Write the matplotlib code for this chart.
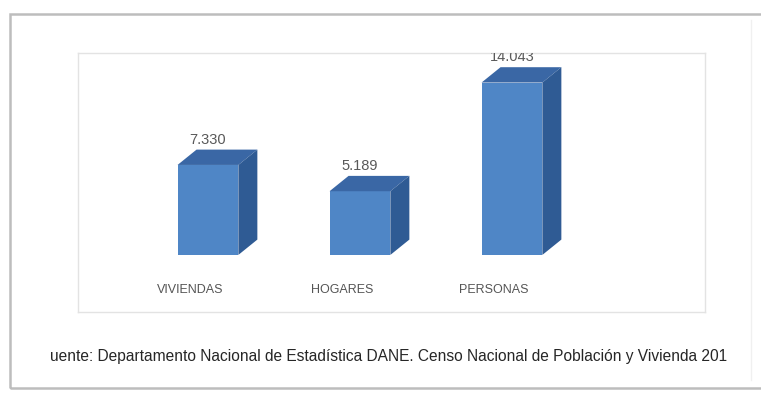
import matplotlib
matplotlib.use("Agg")
import matplotlib.pyplot as plt
from matplotlib.patches import Polygon, Rectangle

categories = ["VIVIENDAS", "HOGARES", "PERSONAS"]
values = [7.330, 5.189, 14.043]
value_labels = ["7.330", "5.189", "14.043"]
footer = "uente: Departamento Nacional de Estadística DANE. Censo Nacional de Población y Vivienda 201"

W, H = 761, 394
fig = plt.figure(figsize=(W / 100, H / 100), dpi=100)
fig.patch.set_facecolor("white")

def fx(px):
    return px / W

def fy(py):
    return 1 - py / H

# outer frame (right edge off canvas)
fig.patches.append(Rectangle((fx(10), fy(388)), fx(770) - fx(10), fy(14) - fy(388),
                             transform=fig.transFigure, fill=False,
                             edgecolor="#bdbdbd", linewidth=1.8, zorder=0))
fig.add_artist(plt.Line2D([fx(751), fx(751)], [fy(20), fy(380)], transform=fig.transFigure,
                          color="#f0f0f0", linewidth=1))

# inner chart area
ax = fig.add_axes([fx(78), fy(312), fx(705) - fx(78), fy(53) - fy(312)])
ax.set_xlim(-0.855, 3.27)
ax.set_ylim(-4.65, 16.45)
for s in ax.spines.values():
    s.set_color("#e3e3e3")
    s.set_linewidth(1.0)
ax.set_xticks([])
ax.set_yticks([])

bw = 0.40
dx = 0.125
dy = 1.25
front_c = "#4f86c6"
top_c = "#3a67a5"
side_c = "#2f5b94"

for i, (v, lab) in enumerate(zip(values, value_labels)):
    x0 = i - bw / 2
    x1 = i + bw / 2
    ax.bar(i, v, width=bw, color=front_c, edgecolor="none", zorder=3)
    ax.add_patch(Polygon([(x0, v), (x0 + dx, v + dy), (x1 + dx, v + dy), (x1, v)],
                         closed=True, facecolor=top_c, edgecolor="none", zorder=3))
    ax.add_patch(Polygon([(x1, 0), (x1, v), (x1 + dx, v + dy), (x1 + dx, dy)],
                         closed=True, facecolor=side_c, edgecolor="none", zorder=3))
    ax.annotate(lab, (i, v + dy), xytext=(0, 2), textcoords="offset points",
                ha="center", va="bottom", fontsize=10.5, color="#595959",
                family=["Liberation Sans", "DejaVu Sans"], annotation_clip=False,
                clip_on=True)
    ax.text(i - 0.12, -2.85, categories[i], ha="center", va="center", fontsize=9,
            color="#555555", family=["Liberation Sans", "DejaVu Sans"])

fig.text(fx(50), fy(357), footer, ha="left", va="center", fontsize=11.2,
         color="#262626", family=["Liberation Sans", "DejaVu Sans"])

fig.savefig("out.png", dpi=100, facecolor="white")
